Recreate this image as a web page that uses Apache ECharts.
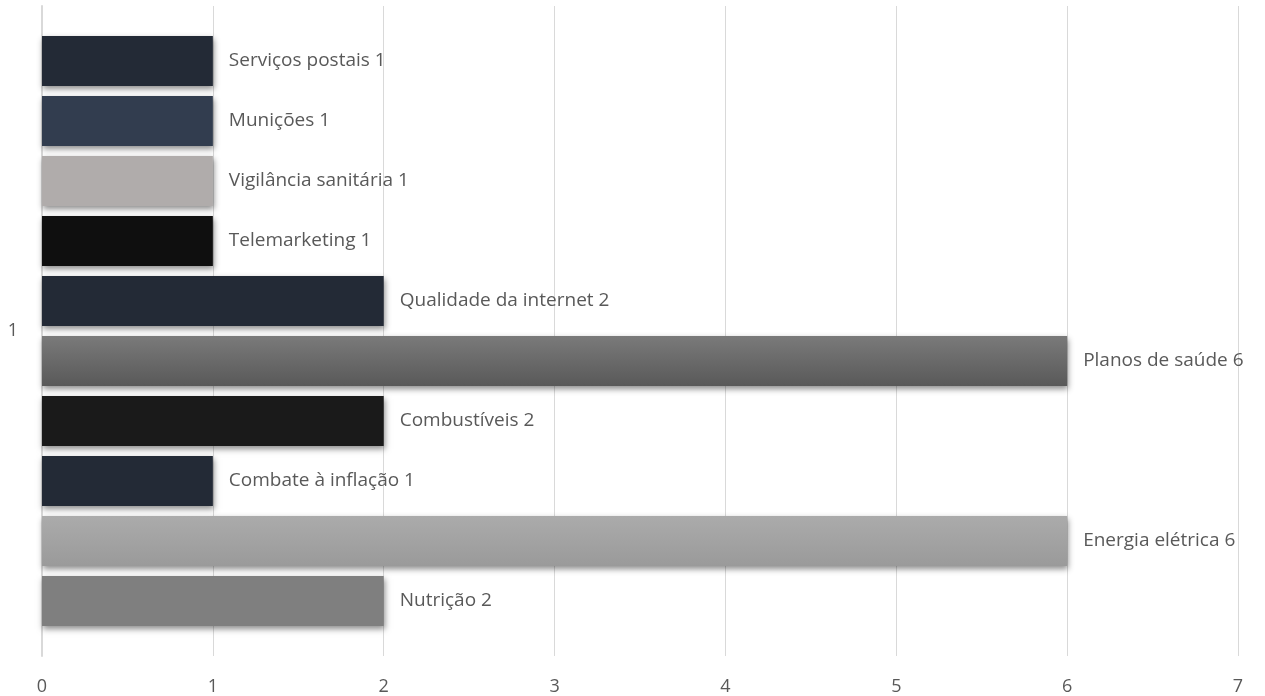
<!DOCTYPE html>
<html>
<head>
<meta charset="utf-8">
<script src="https://cdn.jsdelivr.net/npm/echarts@6/dist/echarts.min.js"></script>
<style>
html,body{margin:0;padding:0;background:#fff;}
#chart{width:1265px;height:696px;}
</style>
</head>
<body>
<div id="chart"></div>
<script>
// Single category, one bar per topic (listed top to bottom)
const categories = ['1'];
const seriesNames = [
  'Serviços postais', 'Munições', 'Vigilância sanitária', 'Telemarketing',
  'Qualidade da internet', 'Planos de saúde', 'Combustíveis',
  'Combate à inflação', 'Energia elétrica', 'Nutrição'
];
const seriesValues = [1, 1, 1, 1, 2, 6, 2, 1, 6, 2];
const xTicks = [0, 1, 2, 3, 4, 5, 6, 7];

// Fill per bar: plain colour or [top, bottom] gradient
const fills = [
  '#232a36',
  '#323d4f',
  '#b0acab',
  '#0f0f0f',
  '#232a36',
  ['#7a7a7a', '#595959'],
  '#1a1a1a',
  '#232a36',
  ['#ababab', '#9a9a9a'],
  '#7f7f7f'
];

function makeColor(f) {
  if (Array.isArray(f)) {
    return new echarts.graphic.LinearGradient(0, 0, 0, 1, [
      { offset: 0, color: f[0] },
      { offset: 1, color: f[1] }
    ]);
  }
  return f;
}

const series = seriesNames.map((name, i) => ({
  name: name,
  type: 'bar',
  barWidth: 50,
  barGap: '20%',
  data: [seriesValues[i]],
  itemStyle: {
    color: makeColor(fills[i]),
    shadowColor: 'rgba(0,0,0,0.45)',
    shadowBlur: 6,
    shadowOffsetX: 1,
    shadowOffsetY: 3
  },
  label: {
    show: true,
    position: 'right',
    distance: 16,
    formatter: p => p.seriesName + ' ' + p.value,
    color: '#595959',
    fontFamily: 'Open Sans',
    fontSize: 19
  }
}));

const chart = echarts.init(document.getElementById('chart'), null, { renderer: 'canvas' });
chart.setOption({
  animation: false,
  backgroundColor: '#ffffff',
  grid: { left: 42, right: 27, top: 6, bottom: 40, containLabel: false },
  xAxis: {
    type: 'value',
    min: xTicks[0],
    max: xTicks[xTicks.length - 1],
    interval: 1,
    axisLine: { show: false },
    axisTick: { show: false },
    splitLine: { show: true, lineStyle: { color: '#d9d9d9', width: 1 } },
    axisLabel: { color: '#595959', fontFamily: 'Open Sans', fontSize: 18, margin: 22 }
  },
  yAxis: {
    type: 'category',
    data: categories,
    axisLine: { show: true, lineStyle: { color: '#d9d9d9', width: 2 } },
    axisTick: { show: false },
    axisLabel: { color: '#595959', fontFamily: 'Open Sans', fontSize: 18, margin: 24 }
  },
  series: series
});
</script>
</body>
</html>
